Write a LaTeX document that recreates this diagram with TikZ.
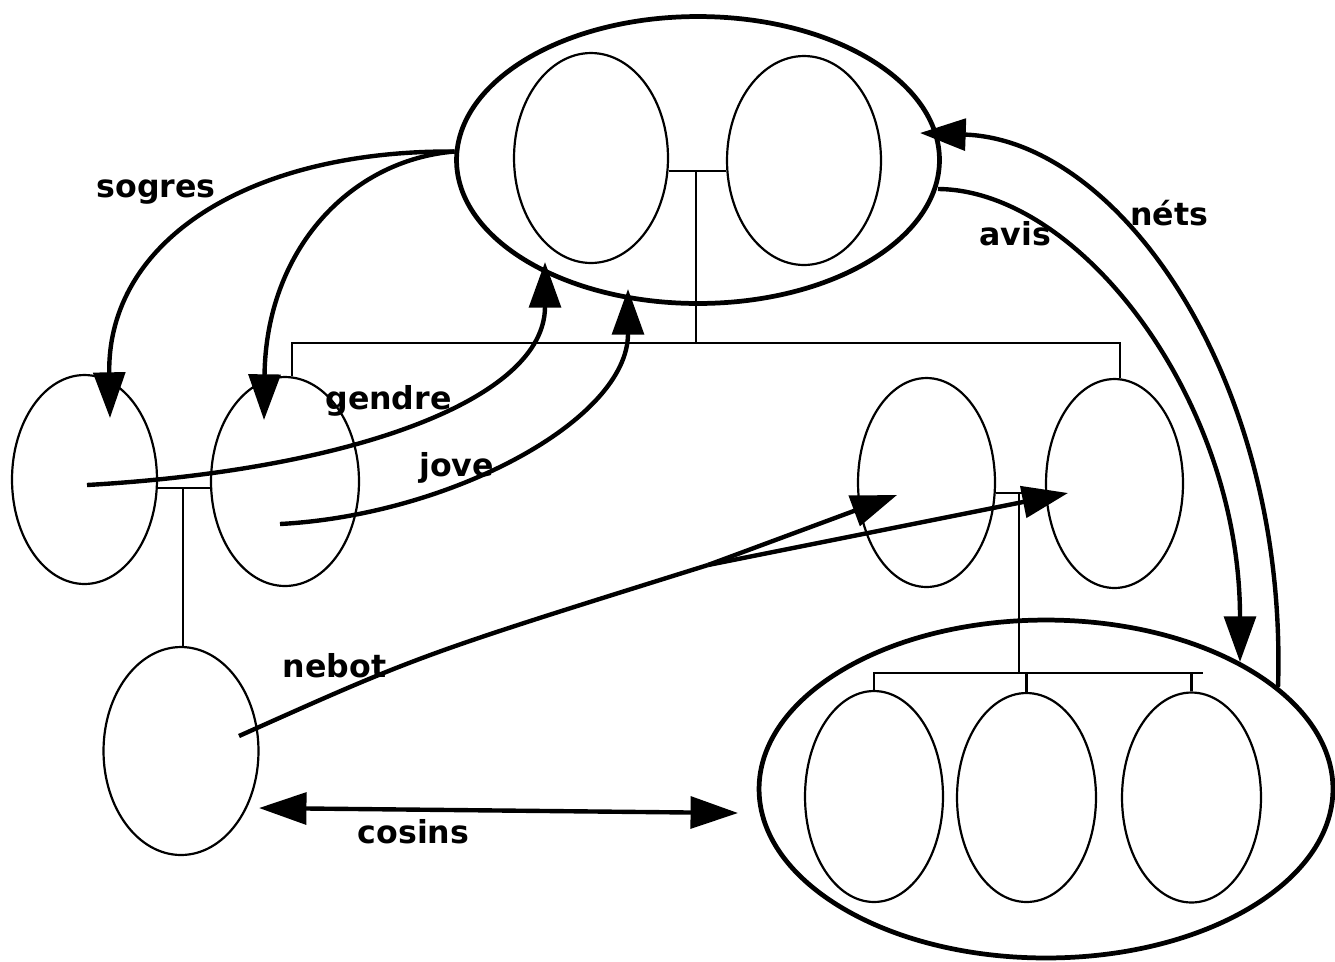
\documentclass[tikz,border=0pt]{standalone}
\usepackage{fontspec}
\setmainfont{DejaVu Sans}
\usetikzlibrary{shapes.geometric,arrows.meta}
\begin{document}
\begin{tikzpicture}[x=0.02cm,y=-0.02cm,
  person/.style={ellipse, draw, line width=1.25pt, inner sep=0pt},
  grp/.style={ellipse, draw, line width=2.7pt, inner sep=0pt},
  kin/.style={line width=1.2pt},
  rel/.style={line width=2.5pt, -{Triangle[length=26pt,width=18pt]}},
  relboth/.style={line width=2.5pt, {Triangle[length=27pt,width=18pt]}-{Triangle[length=27pt,width=18pt]}},
  relline/.style={line width=2.5pt},
  lbl/.style={font=\fontsize{18}{20}\selectfont\bfseries, inner sep=0pt, anchor=base}]
\useasboundingbox (0,0) rectangle (1335,961);

% top couple (grandparents)
\node[grp, minimum width=9.66cm, minimum height=5.74cm] (T) at (698,160) {};
\node[person, minimum width=3.08cm, minimum height=4.2cm] (T1) at (591,158) {};
\node[person, minimum width=3.08cm, minimum height=4.18cm] (T2) at (804,160.5) {};

% left couple and child
\node[person, minimum width=2.9cm, minimum height=4.18cm] (L1) at (84.5,479.5) {};
\node[person, minimum width=2.96cm, minimum height=4.18cm] (L2) at (285,481.5) {};
\node[person, minimum width=3.1cm, minimum height=4.16cm] (L3) at (181,751) {};

% right couple
\node[person, minimum width=2.74cm, minimum height=4.18cm] (M1) at (926.5,482.5) {};
\node[person, minimum width=2.74cm, minimum height=4.18cm] (M2) at (1114.5,483.5) {};

% grandchildren group
\node[grp, minimum width=11.48cm, minimum height=6.76cm] (B) at (1046,789) {};
\node[person, minimum width=2.76cm, minimum height=4.22cm] (B1) at (874,796.5) {};
\node[person, minimum width=2.78cm, minimum height=4.18cm] (B2) at (1026.5,797.5) {};
\node[person, minimum width=2.78cm, minimum height=4.2cm] (B3) at (1191.5,797.5) {};

% genealogy lines
\coordinate (jT) at (696,171);
\coordinate (bar) at (696,343);
\draw[kin] (T1.east |- jT) -- (T2.west |- jT);
\draw[kin] (jT) -- (bar);
\draw[kin] (L2.86) |- (bar) -| (M2.87);

\coordinate (jL) at (183,488);
\draw[kin] (L1.east |- jL) -- (L2.west |- jL);
\draw[kin] (jL) -- (jL |- L3.north);

\coordinate (jM) at (1019,493);
\coordinate (bB) at (1019,673);
\coordinate (bEnd) at (1203,673);
\draw[kin] (M1.east |- jM) -- (M2.west |- jM);
\draw[kin] (jM) -- (bB);
\draw[kin] (B1.north) |- (bEnd);
\draw[kin] (B2.north) -- (B2.north |- bB);
\draw[kin] (B3.north) -- (B3.north |- bB);

% relation arrows
\coordinate (sogE) at (110,418);
\coordinate (sogE2) at (264,420);
\draw[rel] (T.178) .. controls (250,150) and (107,240) .. (sogE);
\draw[rel] (T.178) .. controls (350,160) and (266,250) .. (sogE2);

\coordinate (genS) at (87,485);
\coordinate (genE) at (545,262);
\draw[rel] (genS) .. controls (350,470) and (545,400) .. (genE);

\coordinate (jovS) at (280,524);
\coordinate (jovE) at (628,289);
\draw[rel] (jovS) .. controls (450,515) and (628,420) .. (jovE);

\coordinate (avS) at (938,189);
\coordinate (avE) at (1240,662);
\draw[rel] (avS) .. controls (1080,190) and (1240,400) .. (avE);

\coordinate (netS) at (1278,687);
\coordinate (netE) at (920,133);
\draw[rel] (netS) .. controls (1288,380) and (1120,140) .. (netE);

\coordinate (nebS) at (239,736);
\coordinate (fork) at (708,565);
\coordinate (nebE1) at (897,495);
\coordinate (nebE2) at (1068,493);
\draw[relline] (nebS) .. controls (420,655) .. (fork);
\draw[rel] (fork) -- (nebE1);
\draw[rel] (fork) -- (nebE2);

\coordinate (cosL) at (259,808);
\coordinate (cosR) at (738,813);
\draw[relboth] (cosL) -- (cosR);

% labels
\node[lbl] (tsog) at (156,197) {sogres};
\node[lbl] (tgen) at (388.5,409) {gendre};
\node[lbl] (tjov) at (456.5,476) {jove};
\node[lbl] (tavi) at (1015,245) {avis};
\node[lbl] (tnet) at (1169,225) {néts};
\node[lbl] (tneb) at (334.5,677) {nebot};
\node[lbl] (tcos) at (413.5,843) {cosins};
\end{tikzpicture}
\end{document}
